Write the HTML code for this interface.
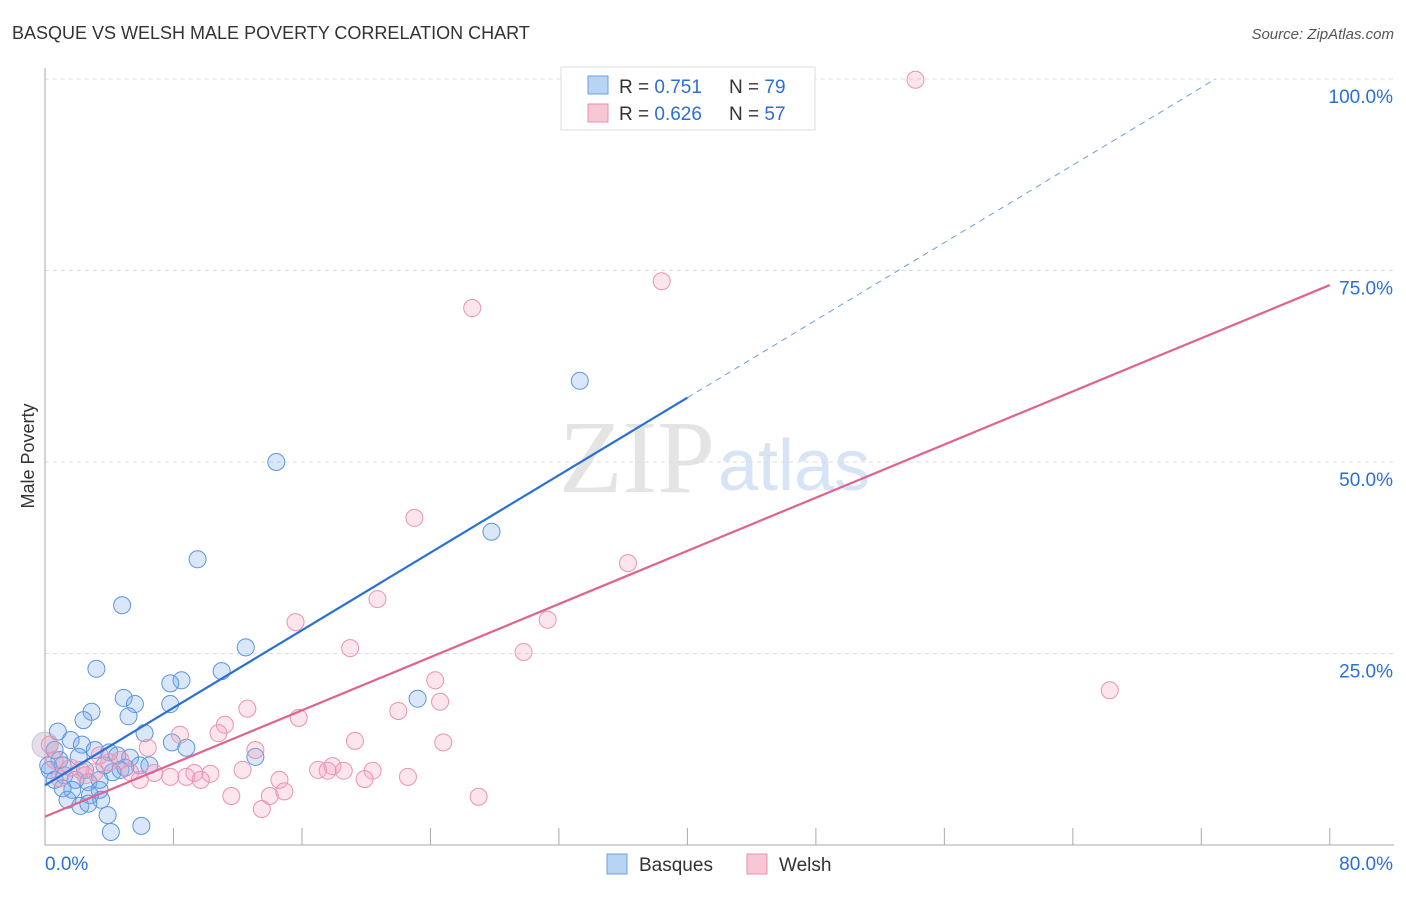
<!DOCTYPE html>
<html><head><meta charset="utf-8"><style>
body{margin:0;background:#fff;font-family:"Liberation Sans",sans-serif;}
svg text{font-family:"Liberation Sans",sans-serif;}
</style></head><body>
<svg width="1406" height="892">
<text x="12" y="39" font-size="18" fill="#333">BASQUE VS WELSH MALE POVERTY CORRELATION CHART</text>
<text x="1394" y="39" font-size="15" fill="#555" font-style="italic" text-anchor="end">Source: ZipAtlas.com</text>
<text x="715" y="492" font-size="104" fill="#e4e4e4" text-anchor="end" font-family="Liberation Serif" style="font-family:'Liberation Serif',serif">ZIP</text>
<text x="718" y="490" font-size="72" fill="#d6e4f5">atlas</text>
<g id="grid"></g><g id="axes"></g><g id="pts"></g><g id="lines"></g>
<text transform="translate(34,456) rotate(-90)" font-size="18" fill="#333" text-anchor="middle">Male Poverty</text>
<g>
<rect x="561" y="67" width="254" height="63" fill="#fff" stroke="#ddd"/>
<rect x="588" y="76" width="20" height="18" fill="#b8d4f5" stroke="#6a9fe0"/>
<rect x="588" y="104" width="20" height="18" fill="#f9c6d6" stroke="#e890ad"/>
<text x="619" y="93" font-size="19" fill="#333">R = <tspan fill="#2a6fd6">0.751</tspan><tspan x="729">N = </tspan><tspan fill="#2a6fd6">79</tspan></text>
<text x="619" y="120" font-size="19" fill="#333">R = <tspan fill="#2a6fd6">0.626</tspan><tspan x="729">N = </tspan><tspan fill="#2a6fd6">57</tspan></text>
</g>
<g>
<rect x="607" y="854" width="20" height="20" fill="#b8d4f5" stroke="#6a9fe0"/>
<text x="639" y="871" font-size="19" fill="#333">Basques</text>
<rect x="747" y="854" width="20" height="20" fill="#f9c6d6" stroke="#e890ad"/>
<text x="779" y="871" font-size="19" fill="#333">Welsh</text>
</g>
</svg>
<script>
const yTicks=[25,50,75,100];
const xTickLabels=["0.0%","80.0%"];
const basqueX=[14.4,33.3,27.8,9.5,4.8,12.5,3.2,8.5,7.8,11.0,4.9,5.6,7.8,2.9,5.2,2.4,23.2,13.1,6.2,7.9,8.8,0.8,1.6,2.3,3.1,4.0,4.5,5.3,5.9,0.9,0.3,1.2,1.9,2.7,3.4,4.2,4.7,1.7,2.8,3.5,1.4,2.2,2.7,3.9,4.1,6.0,0.6,0.2,1.1,2.1,3.7,6.5,5.0,2.5,0.6,1.1,3.4];
const basqueY=[50.0,60.6,40.9,37.3,31.3,25.8,23.0,21.5,21.1,22.7,19.2,18.4,18.4,17.4,16.8,16.3,19.1,11.5,14.6,13.4,12.7,14.8,13.7,13.1,12.4,12.1,11.7,11.4,10.4,11.1,9.8,9.1,8.5,8.2,7.2,9.5,9.8,7.2,6.5,5.9,5.9,5.1,5.4,3.9,1.7,2.5,12.4,10.4,10.4,11.5,10.4,10.4,10.1,9.8,8.5,7.4,8.5];
const welshX=[54.2,38.4,26.6,23.0,36.3,20.7,31.3,15.6,19.0,29.8,66.3,24.3,24.6,12.6,15.8,22.0,8.4,11.2,10.8,19.3,24.8,6.4,13.1,17.9,17.0,17.6,18.6,20.4,19.9,22.6,14.6,12.3,10.3,9.3,8.8,7.8,6.8,9.7,11.6,14.0,14.9,13.5,27.0,5.3,4.0,3.1,2.2,0.9,0.6,1.6,5.9,4.7,0.3,2.5,3.4];
const welshY=[99.9,73.6,70.1,42.7,36.8,32.1,29.4,29.1,25.7,25.2,20.2,21.5,18.7,17.8,16.6,17.5,14.4,15.7,14.6,13.6,13.4,12.7,12.4,10.3,9.8,9.7,9.7,9.7,8.6,8.9,8.5,9.8,9.3,9.4,8.9,8.9,9.4,8.5,6.4,6.4,7.0,4.7,6.3,9.5,10.8,9.5,9.8,8.7,11.1,10.1,8.5,11.1,13.1,9.1,11.7];
const basqueFit=[7.8,1.265];
const welshFit=[3.7,0.8675];
const NS="http://www.w3.org/2000/svg";
const sx=v=>45+v*16.06, sy=v=>845-v*7.66;
function mk(t,a,p){const e=document.createElementNS(NS,t);for(const k in a)e.setAttribute(k,a[k]);document.getElementById(p).appendChild(e);return e;}
yTicks.forEach(t=>{
 const g=mk('line',{x1:45,x2:1394,y1:sy(t),y2:sy(t),stroke:'#ddd','stroke-dasharray':'4,4'},'grid');
 
 
 const l=mk('text',{x:1393,y:sy(t)+24,'font-size':19,fill:'#2a6fd6','text-anchor':'end'},'grid');
 l.textContent=t.toFixed(1)+'%';
 
 
});
mk('line',{x1:45,x2:45,y1:68,y2:845,stroke:'#aaa'},'axes');
mk('line',{x1:45,x2:1394,y1:845,y2:845,stroke:'#aaa'},'axes');
for(let i=0;i<=10;i++){mk('line',{x1:sx(i*8),x2:sx(i*8),y1:828,y2:845,stroke:'#aaa'},'axes');}
const xl0=mk('text',{x:45,y:870,'font-size':19,fill:'#2a6fd6'},'axes');xl0.textContent=xTickLabels[0];


const xl1=mk('text',{x:1393,y:870,'font-size':19,fill:'#2a6fd6','text-anchor':'end'},'axes');xl1.textContent=xTickLabels[1];


mk('circle',{cx:45,cy:745,r:13,fill:'rgba(200,190,210,0.5)',stroke:'rgba(180,170,200,0.6)'},'pts');
basqueX.forEach((x,i)=>{const c=mk('circle',{cx:sx(x),cy:sy(basqueY[i]),r:8.5,fill:'rgba(120,170,235,0.28)',stroke:'#5a95e2','stroke-width':1},'pts');
 
 });
welshX.forEach((x,i)=>{const c=mk('circle',{cx:sx(x),cy:sy(welshY[i]),r:8.5,fill:'rgba(245,160,190,0.28)',stroke:'#ea93b0','stroke-width':1},'pts');
 
 });
const bl=mk('line',{x1:sx(0),y1:sy(basqueFit[0]),x2:sx(40),y2:sy(basqueFit[0]+40*basqueFit[1]),stroke:'#2a6fd6','stroke-width':2.2},'lines');


const xe=(100-basqueFit[0])/basqueFit[1];
const bd=mk('line',{x1:sx(40),y1:sy(basqueFit[0]+40*basqueFit[1]),x2:sx(xe),y2:sy(100),stroke:'#6a9fe0','stroke-width':1,'stroke-dasharray':'6,5'},'lines');


const wl=mk('line',{x1:sx(0),y1:sy(welshFit[0]),x2:sx(80),y2:sy(welshFit[0]+80*welshFit[1]),stroke:'#e0628e','stroke-width':2.2},'lines');


</script>
</body></html>
